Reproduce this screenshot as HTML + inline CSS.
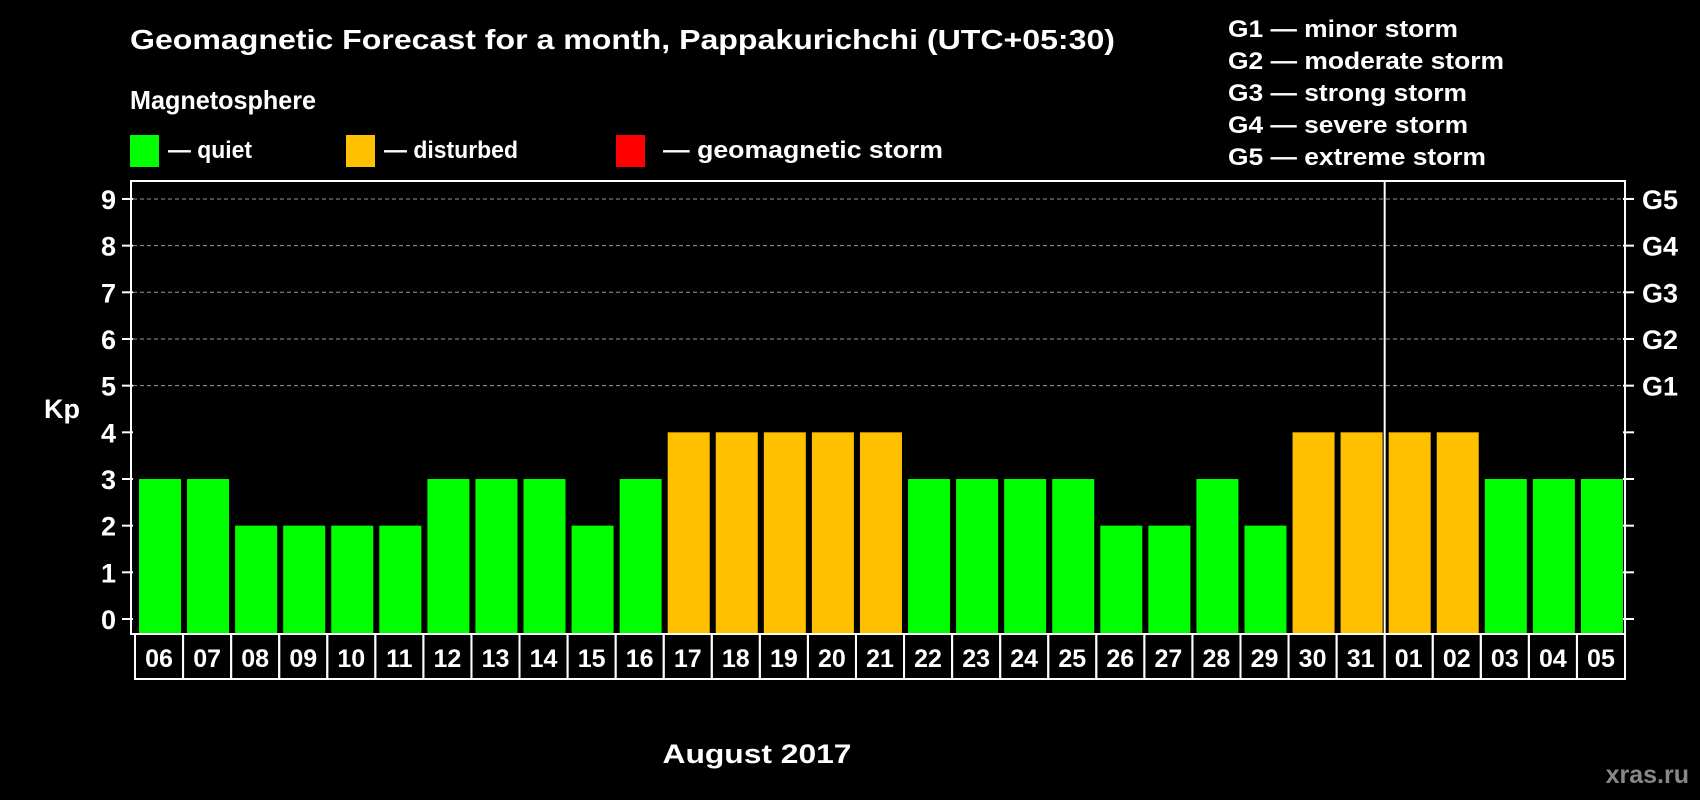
<!DOCTYPE html>
<html><head><meta charset="utf-8"><style>
html,body{margin:0;padding:0;background:#000;}
svg{display:block;font-family:"Liberation Sans",Arial,sans-serif;font-weight:bold;}
</style></head><body>
<svg id="chart" width="1700" height="800" viewBox="0 0 1700 800">
<text x="130" y="49" fill="#fff" font-size="28" textLength="985" lengthAdjust="spacingAndGlyphs">Geomagnetic Forecast for a month, Pappakurichchi (UTC+05:30)</text>
<text x="130" y="109" fill="#fff" font-size="26" textLength="186" lengthAdjust="spacingAndGlyphs">Magnetosphere</text>
<g>
<rect x="130" y="135" width="29" height="32" fill="#00ff00"/>
<text x="168" y="158" fill="#fff" font-size="24" textLength="84" lengthAdjust="spacingAndGlyphs">— quiet</text></g>
<g>
<rect x="346" y="135" width="29" height="32" fill="#ffc000"/>
<text x="384" y="158" fill="#fff" font-size="24" textLength="134" lengthAdjust="spacingAndGlyphs">— disturbed</text></g>
<g>
<rect x="616" y="135" width="29" height="32" fill="#ff0000"/>
<text x="663" y="158" fill="#fff" font-size="24" textLength="280" lengthAdjust="spacingAndGlyphs">— geomagnetic storm</text></g>
<g fill="#fff" font-size="24">
<text x="1228" y="37" textLength="230" lengthAdjust="spacingAndGlyphs">G1 — minor storm</text>
<text x="1228" y="69" textLength="276" lengthAdjust="spacingAndGlyphs">G2 — moderate storm</text>
<text x="1228" y="101" textLength="239" lengthAdjust="spacingAndGlyphs">G3 — strong storm</text>
<text x="1228" y="133" textLength="240" lengthAdjust="spacingAndGlyphs">G4 — severe storm</text>
<text x="1228" y="165" textLength="258" lengthAdjust="spacingAndGlyphs">G5 — extreme storm</text>
</g>
<g id="grid"></g>
<g id="bars"></g>
<g id="axes"></g>
<text x="62" y="418" fill="#fff" font-size="27" text-anchor="middle">Kp</text>
<text x="757" y="763" fill="#fff" font-size="27" text-anchor="middle" textLength="189" lengthAdjust="spacingAndGlyphs">August 2017</text>
<text x="1689" y="783" fill="#888" font-size="25" text-anchor="end">xras.ru</text>
</svg>
<script>
const categories=["06","07","08","09","10","11","12","13","14","15","16","17","18","19","20","21","22","23","24","25","26","27","28","29","30","31","01","02","03","04","05"];
const kpValues=[3,3,2,2,2,2,3,3,3,2,3,4,4,4,4,4,3,3,3,3,2,2,3,2,4,4,4,4,3,3,3];
const yTicks=[0,1,2,3,4,5,6,7,8,9];
const gLabels=[["G1",5],["G2",6],["G3",7],["G4",8],["G5",9]];
const monthBreakIndex=26;
const NS="http://www.w3.org/2000/svg";
const L=133,R=1623,T=181,B=634,slot=(R-L)/categories.length;
const y=v=>619-v*46.67;
const x=i=>L+2+i*slot;
function mk(tag,attrs,parent){const e=document.createElementNS(NS,tag);for(const k in attrs)e.setAttribute(k,attrs[k]);parent.appendChild(e);return e;}
const grid=document.getElementById('grid'),bars=document.getElementById('bars'),axes=document.getElementById('axes');
yTicks.forEach(v=>{
 if(v>=5){const g=mk('line',{x1:L,x2:R,y1:y(v),y2:y(v),stroke:'#999','stroke-dasharray':'4 3','stroke-width':1},grid);
 
 }
 const t=mk('line',{x1:122,x2:L,y1:y(v),y2:y(v),stroke:'#fff','stroke-width':2},axes);
 
 
 const t2=mk('line',{x1:R,x2:1634,y1:y(v),y2:y(v),stroke:'#fff','stroke-width':2},axes);
 
 
 const lb=mk('text',{x:116,y:y(v)+10,fill:'#fff','font-size':27,'text-anchor':'end'},axes);
 lb.textContent=v;
 
 
});
gLabels.forEach(([g,v])=>{
 const lb=mk('text',{x:1642,y:y(v)+10,fill:'#fff','font-size':27},axes);
 lb.textContent=g;
 
 
});
kpValues.forEach((v,i)=>{
 const r=mk('rect',{x:x(i)+4,y:y(v),width:42,height:B-y(v)-1,fill:v>=5?'#ff0000':(v>=4?'#ffc000':'#00ff00')},bars);
 
 
});
mk('rect',{x:L-2,y:T,width:R-L+4,height:B-T,fill:'none',stroke:'#fff','stroke-width':2},axes);
const sep=mk('line',{x1:x(monthBreakIndex),x2:x(monthBreakIndex),y1:T,y2:B,stroke:'#fff','stroke-width':2},axes);


categories.forEach((c,i)=>{
 const bx=mk('rect',{x:x(i),y:B,width:slot,height:45,fill:'none',stroke:'#fff','stroke-width':2},axes);
 
 
 const t=mk('text',{x:x(i)+slot/2,y:B+33,fill:'#fff','font-size':25,'text-anchor':'middle'},axes);
 t.textContent=c;
 
 
});
</script>
</body></html>
